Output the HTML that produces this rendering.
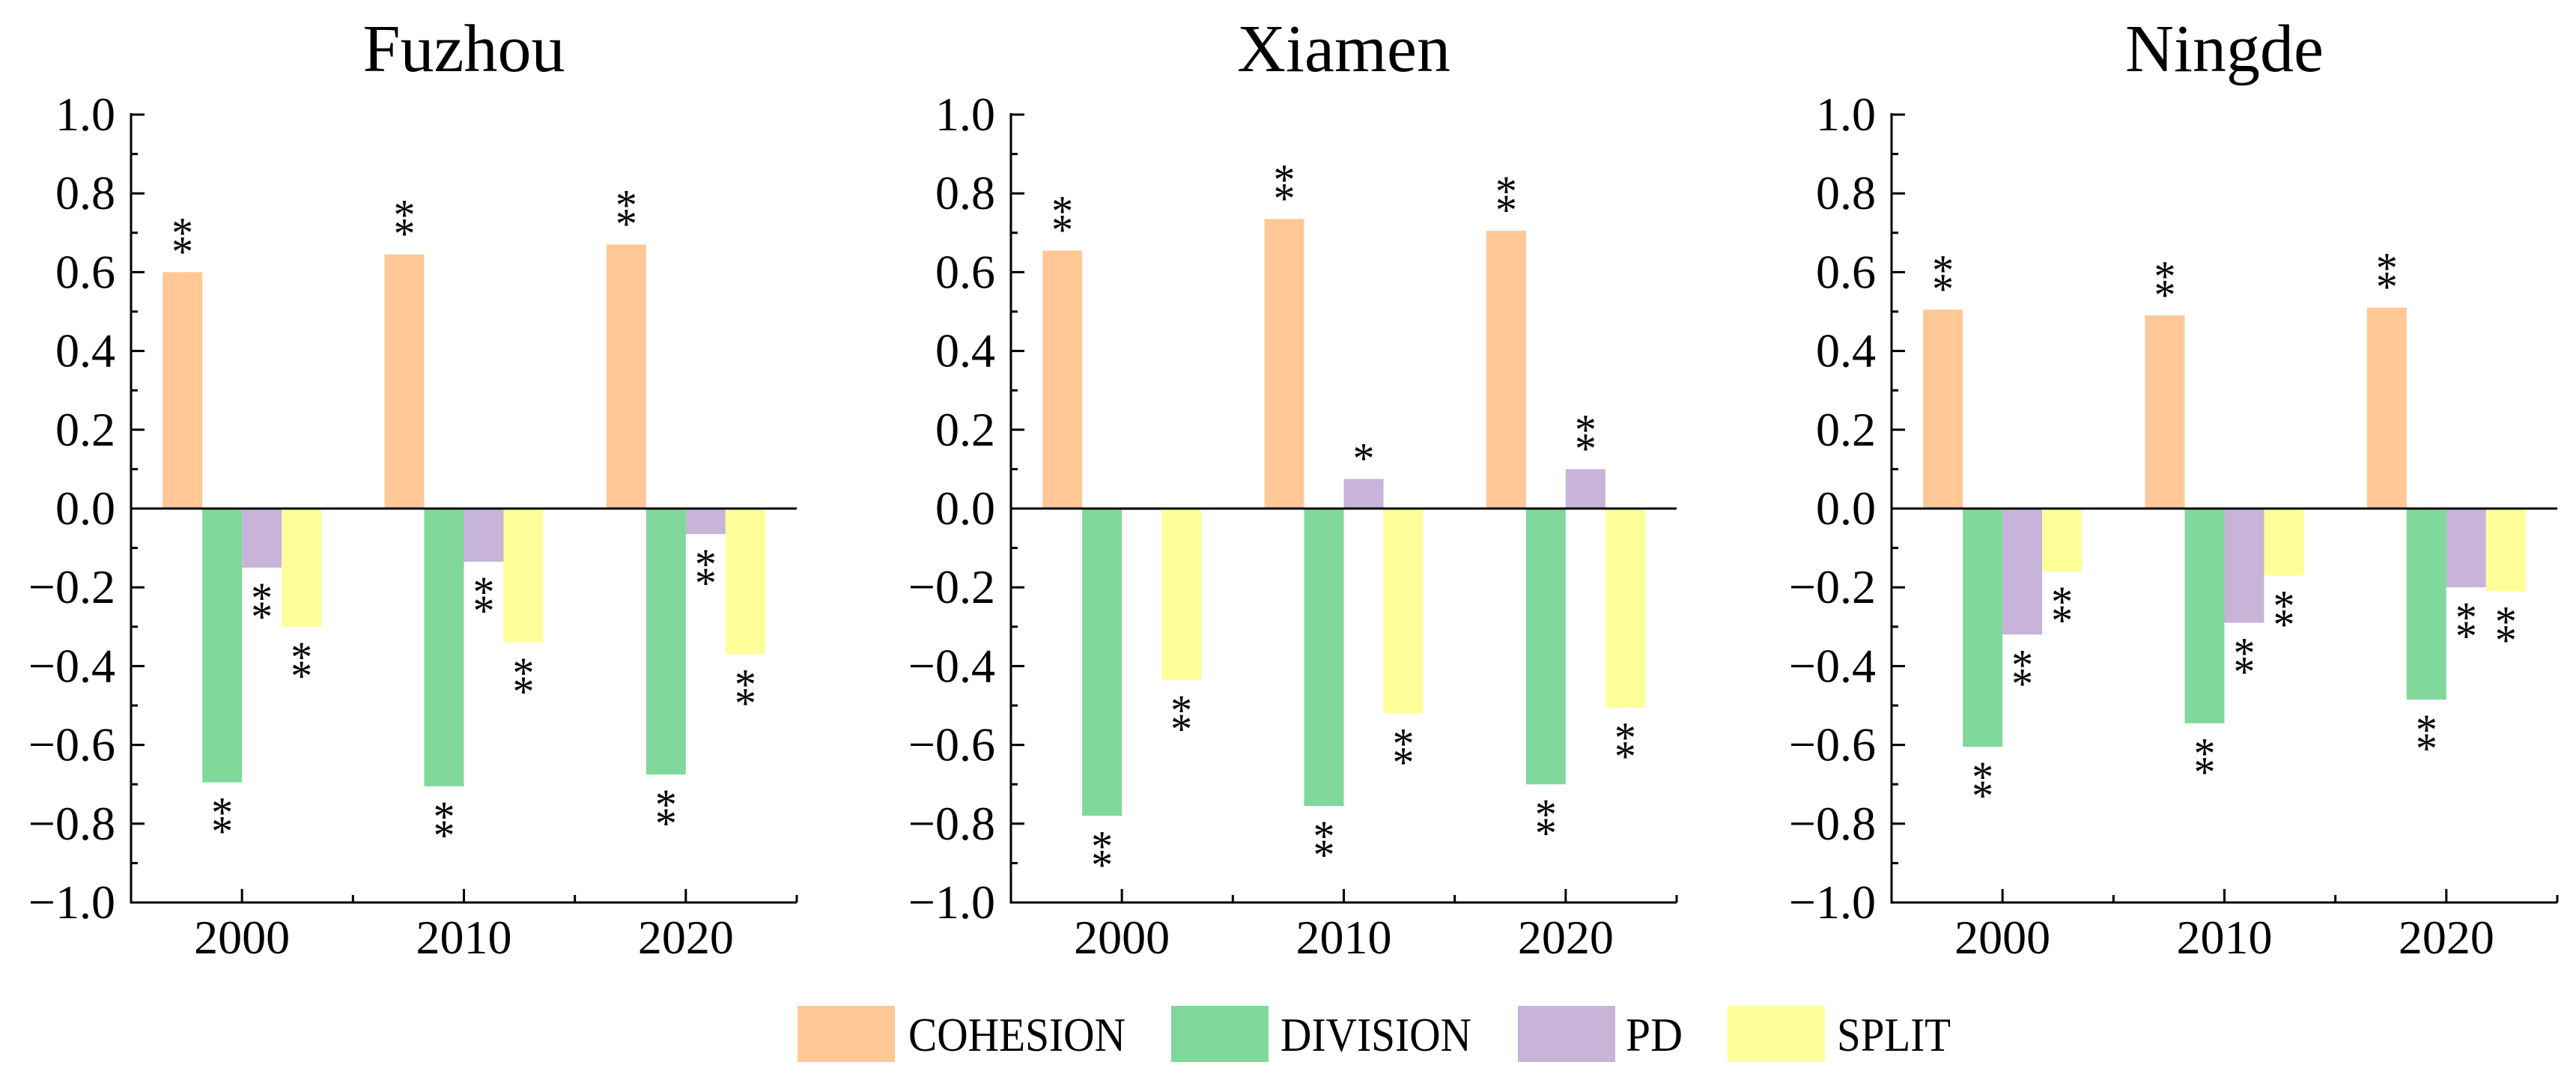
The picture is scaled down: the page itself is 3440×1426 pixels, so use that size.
<!DOCTYPE html>
<html><head><meta charset="utf-8"><style>
html,body{margin:0;padding:0;background:#fff;}
svg{display:block;font-family:"Liberation Serif",serif;}
</style></head><body>
<svg id="chart" width="3440" height="1426" viewBox="0 0 3440 1426" xmlns="http://www.w3.org/2000/svg"></svg>
<script>
const cities = ["Fuzhou", "Xiamen", "Ningde"];
const years = ["2000", "2010", "2020"];
const seriesNames = ["COHESION", "DIVISION", "PD", "SPLIT"];
const yTickLabels = ["1.0","0.8","0.6","0.4","0.2","0.0","\u22120.2","\u22120.4","\u22120.6","\u22120.8","\u22121.0"];
const yTickValues = [1.0,0.8,0.6,0.4,0.2,0.0,-0.2,-0.4,-0.6,-0.8,-1.0];
const fuzhouCohesion = [0.60, 0.645, 0.67];
const fuzhouDivision = [-0.695, -0.705, -0.675];
const fuzhouPD = [-0.15, -0.135, -0.065];
const fuzhouSplit = [-0.30, -0.34, -0.37];
const xiamenCohesion = [0.655, 0.735, 0.705];
const xiamenDivision = [-0.78, -0.755, -0.70];
const xiamenPD = [-0.004, 0.075, 0.10];
const xiamenSplit = [-0.435, -0.52, -0.505];
const ningdeCohesion = [0.505, 0.49, 0.51];
const ningdeDivision = [-0.605, -0.545, -0.485];
const ningdePD = [-0.32, -0.29, -0.20];
const ningdeSplit = [-0.16, -0.17, -0.21];
const fuzhouStars = [["**","**","**"],["**","**","**"],["**","**","**"],["**","**","**"]];
const xiamenStars = [["**","**","**"],["**","**","**"],["","*","**"],["**","**","**"]];
const ningdeStars = [["**","**","**"],["**","**","**"],["**","**","**"],["**","**","**"]];

const cityData = [
  [fuzhouCohesion, fuzhouDivision, fuzhouPD, fuzhouSplit],
  [xiamenCohesion, xiamenDivision, xiamenPD, xiamenSplit],
  [ningdeCohesion, ningdeDivision, ningdePD, ningdeSplit]
];
const cityStars = [fuzhouStars, xiamenStars, ningdeStars];
const colors = ["#FFC896", "#80D89A", "#C8B4D8", "#FFFF99"];
const panelLeft = [175, 1350, 2526];
const panelW = 889;
const yTop = 153, yBot = 1205;
const svg = document.getElementById('chart');
const NS = "http://www.w3.org/2000/svg";
function mk(tag, attrs, parent) {
  const e = document.createElementNS(NS, tag);
  for (const k in attrs) e.setAttribute(k, attrs[k]);
  (parent || svg).appendChild(e);
  return e;
}
function yScale(v) { return yTop + (1 - v) / 2 * (yBot - yTop); }

cities.forEach((city, ci) => {
  const g = mk('g', {});
  
  
  const L = panelLeft[ci], R = L + panelW;
  const groupW = panelW / years.length;
  const xCenter = i => L + groupW * (i + 0.5);
  const barW = 53;
  const t = mk('text', {x: (L + R) / 2, y: 95, 'font-size': 90, 'text-anchor': 'middle', fill: '#000'}, g);
  t.textContent = city;
  
  
  cityData[ci].forEach((vals, si) => {
    vals.forEach((v, yi) => {
      const x = xCenter(yi) + (si - 2) * barW;
      const y0 = yScale(0), y1 = yScale(v);
      const r = mk('rect', {x: x, y: Math.min(y0, y1), width: barW, height: Math.abs(y1 - y0), fill: colors[si]}, g);
      
      
      const st = cityStars[ci][si][yi];
      if (st) {
        const cx = x + barW / 2;
        const n = st.length;
        for (let k = 0; k < n; k++) {
          let by;
          if (v >= 0) by = y1 - 8 - (n - 1 - k) * 25;
          else by = y1 + 60 + k * 25;
          const s = mk('text', {x: cx, y: by, 'font-size': 58, 'text-anchor': 'middle', fill: '#000'}, g);
          s.textContent = '*';
          
          
        }
      }
    });
  });
  const ax = mk('line', {x1: L, y1: yTop - 2, x2: L, y2: yBot + 1.5, stroke: '#000', 'stroke-width': 3}, g);
  
  
  const bx = mk('line', {x1: L - 1.5, y1: yBot, x2: R, y2: yBot, stroke: '#000', 'stroke-width': 3}, g);
  
  
  const zl = mk('line', {x1: L, y1: yScale(0), x2: R, y2: yScale(0), stroke: '#000', 'stroke-width': 3}, g);
  
  
  yTickValues.forEach((v, i) => {
    const y = yScale(v);
    mk('line', {x1: L, y1: y, x2: L + 18, y2: y, stroke: '#000', 'stroke-width': 3}, g);
    if (i < yTickValues.length - 1) {
      const ym = yScale(v - 0.1);
      mk('line', {x1: L, y1: ym, x2: L + 9, y2: ym, stroke: '#000', 'stroke-width': 3}, g);
    }
    const lb = mk('text', {x: L - 21, y: y + 21, 'font-size': 64, 'text-anchor': 'end', fill: '#000'}, g);
    lb.textContent = yTickLabels[i];
    
    
  });
  years.forEach((yr, i) => {
    const xc = xCenter(i);
    mk('line', {x1: xc, y1: yBot, x2: xc, y2: yBot - 18, stroke: '#000', 'stroke-width': 3}, g);
    const xb = L + groupW * (i + 1);
    mk('line', {x1: xb, y1: yBot, x2: xb, y2: yBot - 10, stroke: '#000', 'stroke-width': 3}, g);
    const lb = mk('text', {x: xc, y: 1273, 'font-size': 64, 'text-anchor': 'middle', fill: '#000'}, g);
    lb.textContent = yr;
    
    
  });
});

const legBoxX = [1065, 1564, 2027, 2307];
const legTextX = [1213, 1710, 2171, 2453];
const legTextW = [290, 255, 76, 152];
const lg = mk('g', {});


seriesNames.forEach((n, i) => {
  const r = mk('rect', {x: legBoxX[i], y: 1343, width: 130, height: 75, fill: colors[i]}, lg);
  
  
  const t = mk('text', {x: legTextX[i], y: 1403, 'font-size': 64, fill: '#000', textLength: legTextW[i], lengthAdjust: 'spacingAndGlyphs'}, lg);
  t.textContent = n;
  
  
});
</script>
</body></html>
